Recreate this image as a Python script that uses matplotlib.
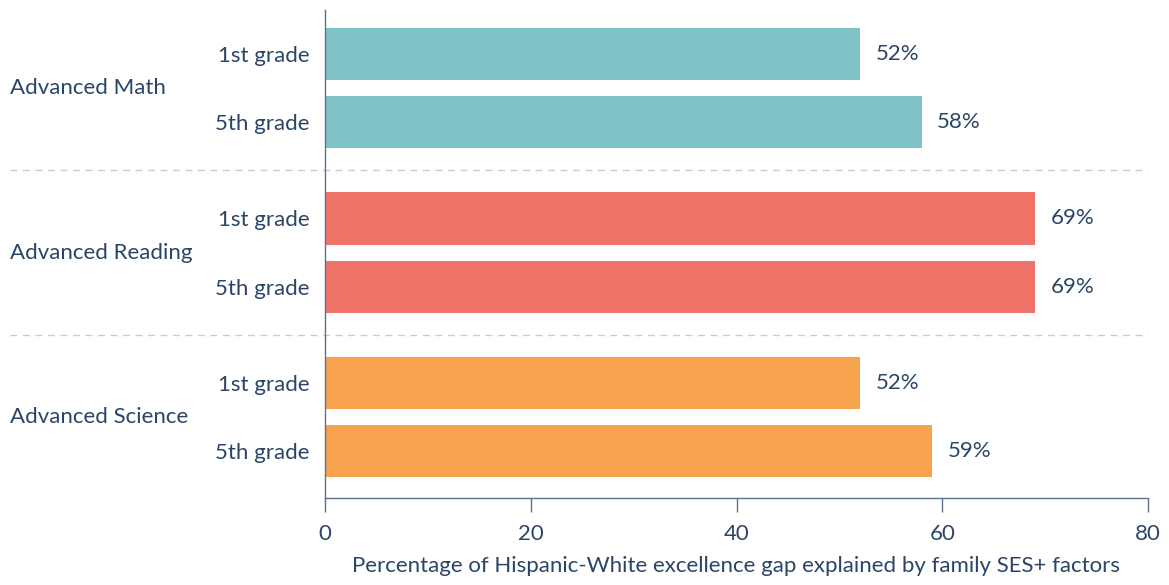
import matplotlib.pyplot as plt
import numpy as np

subjects = ["Advanced Math", "Advanced Reading", "Advanced Science"]
grades = ["1st grade", "5th grade"]
values = [[52, 58], [69, 69], [52, 59]]
colors = ["#7fc3c6", "#f0736a", "#f7a24f"]

txt = "#2b4566"
axc = "#5d708a"
plt.rcParams['font.family'] = ['Lato', 'DejaVu Sans']
fs = 16

fig = plt.figure(figsize=(11.69, 5.85), dpi=100)
ax = fig.add_axes([325 / 1169, 1 - 498 / 585, 823 / 1169, 488 / 585])

gap = 164 / 68
pos, labs = [], []
for g, subj in enumerate(subjects):
    for k, gr in enumerate(grades):
        y = g * gap + k
        v = values[g][k]
        ax.barh(y, v, height=52 / 68, color=colors[g])
        ax.text(v + 1.5, y, f"{v}%", va="center", ha="left", fontsize=fs, color=txt)
        pos.append(y)
        labs.append(gr)
    ax.text(-0.383, g * gap + 0.5, subj, transform=ax.get_yaxis_transform(),
            va="center", ha="left", fontsize=fs, color=txt)
    if g > 0:
        sy = g * gap - (gap - 1) / 2
        ax.plot([-0.383, 1.0], [sy, sy], transform=ax.get_yaxis_transform(),
                clip_on=False, color="#c8ccd2", lw=1, ls=(0, (5, 4)))

ax.set_yticks(pos)
ax.set_yticklabels(labs, fontsize=fs, color=txt)
ax.tick_params(axis="y", length=0, pad=11)
ax.set_ylim(5.824 + 0.69, -0.647)
ax.set_xlim(0, 80)
ax.set_xticks([0, 20, 40, 60, 80])
ax.tick_params(axis="x", length=10, width=1, color=axc, labelsize=fs, labelcolor=txt, pad=9)
ax.set_xlabel("Percentage of Hispanic-White excellence gap explained by family SES+ factors",
              fontsize=fs, color=txt, labelpad=8)
for s in ["top", "right"]:
    ax.spines[s].set_visible(False)
for s in ["left", "bottom"]:
    ax.spines[s].set_color(axc)
    ax.spines[s].set_linewidth(1)

fig.savefig("out.png", dpi=100)
